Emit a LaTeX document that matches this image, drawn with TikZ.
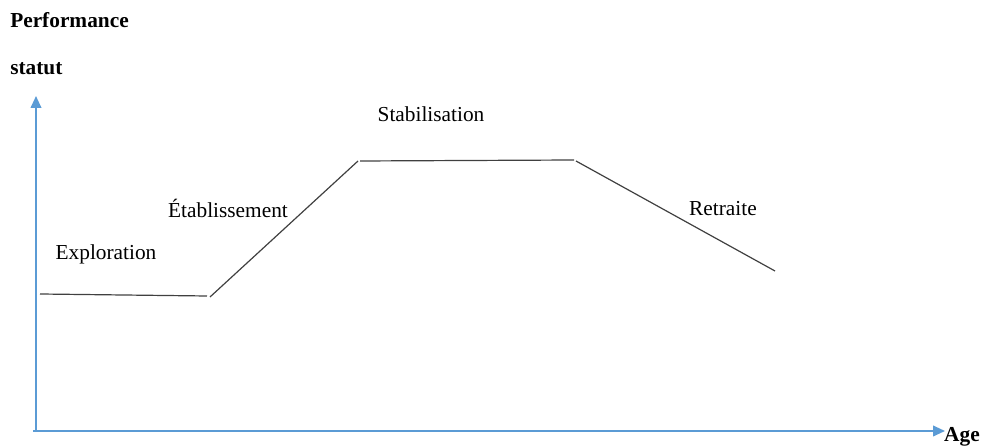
\documentclass[tikz,border=0pt]{standalone}
\usepackage{fontspec}
\setmainfont{Liberation Serif}
\usetikzlibrary{arrows.meta}
\begin{document}
\begin{tikzpicture}[x=0.75pt,y=-0.75pt,
  axis/.style={draw={rgb,255:red,91;green,155;blue,213}, line width=1.4pt, -{Triangle[length=9pt,width=8pt]}},
  curve/.style={draw=black!75, line width=0.9pt},
  lbl/.style={font=\fontsize{16}{19}\selectfont, inner sep=0pt},
  blbl/.style={font=\fontsize{16}{19}\selectfont\bfseries, inner sep=0pt}]
\useasboundingbox (0,0) rectangle (982,448);
\coordinate (o) at (36,431);
\coordinate (ytop) at (36,96);
\coordinate (xend) at (945,431);
\draw[axis] (36,431) -- (ytop);
\draw[axis] (33,431) -- (xend);
\coordinate (p1) at (40,294);
\coordinate (p2) at (207,296);
\coordinate (p3) at (210,297);
\coordinate (p4) at (358,161);
\coordinate (p5) at (360,161);
\coordinate (p6) at (574,160);
\coordinate (p7) at (576,161);
\coordinate (p8) at (775,271);
\draw[curve] (p1) -- (p2);
\draw[curve] (p3) -- (p4);
\draw[curve] (p5) -- (p6);
\draw[curve] (p7) -- (p8);
\node[blbl, anchor=west] (perf) at (10,20) {Performance};
\node[blbl, anchor=west] (stat) at (10,69) {statut};
\node[lbl] (stab) at (431,114) {Stabilisation};
\node[lbl] (etab) at (228,208) {Établissement};
\node[lbl] (expl) at (106,254) {Exploration};
\node[lbl] (retr) at (723,209) {Retraite};
\node[blbl, anchor=base] (age) at (962,442) {Age};
\end{tikzpicture}
\end{document}
